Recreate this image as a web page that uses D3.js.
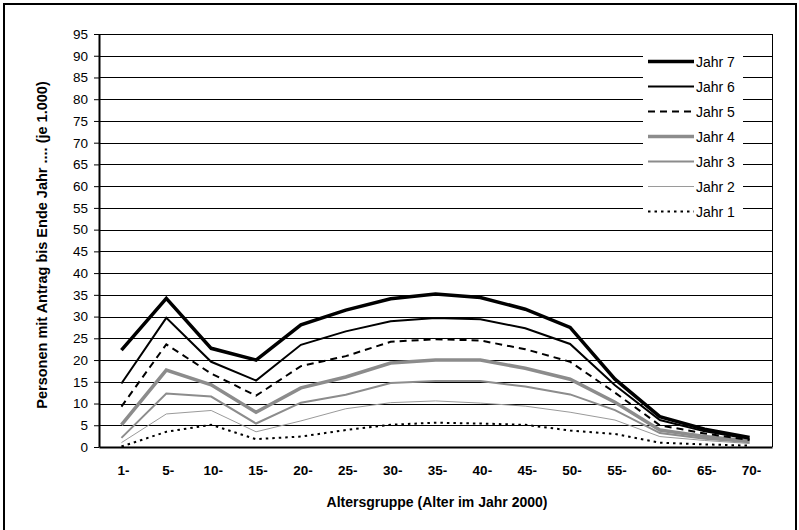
<!DOCTYPE html>
<html><head><meta charset="utf-8">
<script src="https://cdn.jsdelivr.net/npm/d3@7"></script>
<style>body{margin:0;background:#fff}svg{display:block;font-family:"Liberation Sans",Arial,sans-serif}</style>
</head><body>
<svg id="c" width="799" height="530"></svg>
<script>
const categories = ["1-","5-","10-","15-","20-","25-","30-","35-","40-","45-","50-","55-","60-","65-","70-"];
const yTicks = [0,5,10,15,20,25,30,35,40,45,50,55,60,65,70,75,80,85,90,95];
const seriesNames = ["Jahr 7","Jahr 6","Jahr 5","Jahr 4","Jahr 3","Jahr 2","Jahr 1"];
const jahr7 = [22.3,34.2,22.7,20.0,28.1,31.5,34.1,35.2,34.4,31.7,27.5,15.6,7.0,4.1,2.2];
const jahr6 = [14.6,29.7,19.6,15.3,23.5,26.6,28.9,29.7,29.4,27.3,23.7,14.2,6.2,3.6,1.9];
const jahr5 = [9.3,23.6,16.9,11.8,18.6,20.9,24.2,24.8,24.5,22.5,19.6,12.5,5.0,3.1,1.6];
const jahr4 = [5.1,17.7,14.3,8.0,13.6,16.1,19.3,20.0,20.0,18.1,15.6,10.3,3.9,2.4,1.4];
const jahr3 = [2.1,12.3,11.6,5.4,10.2,12.0,14.7,15.2,15.2,13.9,12.1,8.5,3.2,1.9,1.1];
const jahr2 = [1.0,7.6,8.4,3.5,6.0,8.8,10.2,10.6,10.1,9.4,8.0,6.2,2.4,1.5,0.8];
const jahr1 = [0.1,3.5,5.1,1.8,2.4,3.9,5.1,5.6,5.4,5.1,3.8,3.0,1.0,0.6,0.3];
const seriesValues = [jahr7,jahr6,jahr5,jahr4,jahr3,jahr2,jahr1];
const yTitle = "Personen mit Antrag bis Ende Jahr .... (je 1.000)";
const xTitle = "Altersgruppe (Alter im Jahr 2000)";

const styles = [
  {stroke:"#000", width:3.5, dash:null},
  {stroke:"#000", width:2, dash:null},
  {stroke:"#000", width:2, dash:"7,5"},
  {stroke:"#8c8c8c", width:3.5, dash:null},
  {stroke:"#8c8c8c", width:2, dash:null},
  {stroke:"#9a9a9a", width:1, dash:null},
  {stroke:"#000", width:2, dash:"2.5,4"}
];

const svg = d3.select("#c");
const L = 99, R = 772, T = 34, B = 447;

// outer border
svg.append("rect").attr("x",4).attr("y",4).attr("width",792).attr("height",560)
  .attr("fill","none").attr("stroke","#000").attr("stroke-width",2);

const x = d3.scaleBand().domain(categories).range([L,R]).padding(0);
const y = d3.scaleLinear().domain([0,95]).range([B,T]);
const cx = d => x(d) + x.bandwidth()/2;

// gridlines
svg.append("g").selectAll("line").data(yTicks.filter(v=>v>0)).join("line")
  .attr("x1",L).attr("x2",R).attr("y1",d=>Math.round(y(d))+0.5).attr("y2",d=>Math.round(y(d))+0.5)
  .attr("stroke","#000").attr("stroke-width",1);
// right border
svg.append("line").attr("x1",R+0.5).attr("x2",R+0.5).attr("y1",T).attr("y2",B).attr("stroke","#000");

// y axis
const ya = svg.append("g").attr("transform",`translate(${L},0)`)
  .call(d3.axisLeft(y).tickValues(yTicks).tickSize(5).tickPadding(6).tickSizeOuter(0));
ya.select(".domain").attr("stroke","#000").attr("stroke-width",2);
ya.selectAll(".tick line").attr("stroke","#000");
ya.selectAll("text").attr("font-size",13.5).attr("fill","#000").attr("font-family","Liberation Sans, Arial, sans-serif");

// x axis
const xa = svg.append("g").attr("transform",`translate(0,${B})`)
  .call(d3.axisBottom(x).tickSize(0).tickPadding(18).tickSizeOuter(0));
xa.select(".domain").attr("stroke","#000").attr("stroke-width",2);
xa.selectAll("text").attr("font-size",13.5).attr("font-weight","bold").attr("fill","#000").attr("font-family","Liberation Sans, Arial, sans-serif")
  .attr("dx",2);

// lines (draw from Jahr 1 up to Jahr 7 so thick black on top)
const line = d3.line().x((d,i)=>cx(categories[i])).y(d=>y(d));
const order = [6,5,4,3,2,1,0];
svg.append("g").selectAll("path").data(order).join("path")
  .attr("d",i=>line(seriesValues[i]))
  .attr("fill","none")
  .attr("stroke",i=>styles[i].stroke)
  .attr("stroke-width",i=>styles[i].width)
  .attr("stroke-dasharray",i=>styles[i].dash)
  .attr("stroke-linejoin","miter");

// legend
const lg = svg.append("g");
lg.append("rect").attr("x",643).attr("y",44).attr("width",100).attr("height",178).attr("fill","#fff");
seriesNames.forEach((n,i)=>{
  const yy = 61.5 + i*25;
  lg.append("line").attr("x1",648).attr("x2",694).attr("y1",yy).attr("y2",yy)
    .attr("stroke",styles[i].stroke).attr("stroke-width",styles[i].width).attr("stroke-dasharray",styles[i].dash);
  lg.append("text").attr("x",696).attr("y",yy+5).attr("font-size",14).attr("fill","#000").text(n);
});

// titles
svg.append("text").attr("x",437).attr("y",507).attr("text-anchor","middle")
  .attr("font-size",14).attr("font-weight","bold").text(xTitle);
svg.append("text").attr("transform",`translate(47,245) rotate(-90)`).attr("text-anchor","middle")
  .attr("font-size",14.5).attr("font-weight","bold").text(yTitle);
</script>
</body></html>
